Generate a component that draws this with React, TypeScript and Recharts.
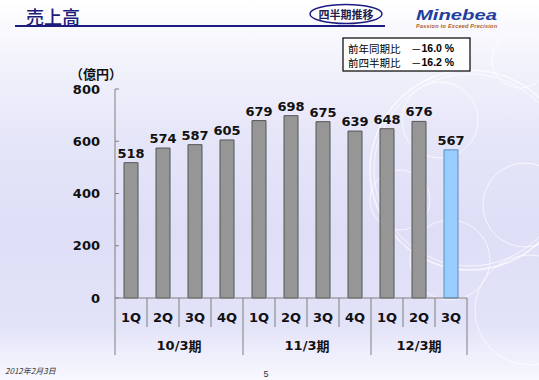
import { BarChart, Bar, XAxis, YAxis, Cell, LabelList } from "recharts"

const quarters = ["1Q", "2Q", "3Q", "4Q", "1Q", "2Q", "3Q", "4Q", "1Q", "2Q", "3Q"]
const sales = [518, 574, 587, 605, 679, 698, 675, 639, 648, 676, 567]
const periods = ["10/3期", "11/3期", "12/3期"]
const periodSizes = [4, 4, 3]
const yTicks = [0, 200, 400, 600, 800]

const data = quarters.map((q, i) => ({ q, sales: sales[i] }))

const W = 539
const H = 380
const MARGIN = { top: 89, right: 72, bottom: 52, left: 75 }
const Y_W = 40
const X_H = 30
const bandW = (W - MARGIN.left - MARGIN.right - Y_W) / quarters.length

const NUM = "'DejaVu Sans', Verdana, sans-serif"
const JP = "'Noto Sans CJK JP', sans-serif"
const AXIS = "#7f7f7f"

const groupStarts = periodSizes.reduce<number[]>((acc, n, i) => {
  acc.push(i === 0 ? 0 : acc[i - 1] + periodSizes[i - 1])
  return acc
}, [])

function YTick(props: any) {
  const { x, y, payload } = props
  return (
    <g>
      <line x1={x} x2={x + 4} y1={y} y2={y} stroke={AXIS} />
      <text x={x - 15} y={y} textAnchor="end" dominantBaseline="central"
        fontFamily={NUM} fontWeight="bold" fontSize={13} fill="#111">
        {payload.value}
      </text>
    </g>
  )
}

function QTick(props: any) {
  const { x, y, payload, index } = props
  const idx = payload?.index ?? index
  const left = x - bandW / 2
  const g = groupStarts.indexOf(idx)
  const last = idx === quarters.length - 1
  return (
    <g>
      <line x1={left} x2={left} y1={y} y2={g >= 0 ? y + 57 : y + 29} stroke={AXIS} />
      {last && <line x1={left + bandW} x2={left + bandW} y1={y} y2={y + 57} stroke={AXIS} />}
      <text x={x} y={y + 19} textAnchor="middle" dominantBaseline="central"
        fontFamily={NUM} fontWeight="bold" fontSize={13} fill="#111">
        {quarters[idx]}
      </text>
      {g >= 0 && (
        <text x={left + (periodSizes[g] * bandW) / 2} y={y + 47} textAnchor="middle"
          dominantBaseline="central" fontFamily={NUM} fontWeight="bold" fontSize={13} fill="#111">
          {periods[g].replace("期", "")}
          <tspan fontFamily={JP}>期</tspan>
        </text>
      )}
    </g>
  )
}

export default function App() {
  return (
    <div style={{ position: "absolute", left: 0, top: 0, width: W, height: H, overflow: "hidden",
      background: "linear-gradient(#ffffff 0%, #f4f4fc 14%, #e6e6f9 35%, #dedef7 60%, #e2e2f8 85%, #f8f8ff 100%)" }}>
      <svg width={W} height={H} style={{ position: "absolute", left: 0, top: 0 }}>
        <g fill="none" stroke="#ffffff" strokeOpacity={0.7}>
          <circle cx={470} cy={170} r={100} strokeWidth={1.5} />
          <circle cx={470} cy={170} r={96} strokeWidth={1} />
          <circle cx={440} cy={120} r={38} />
          <circle cx={525} cy={205} r={42} />
          <circle cx={450} cy={260} r={40} />
          <circle cx={520} cy={60} r={28} />
          <circle cx={530} cy={310} r={55} />
          <circle cx={400} cy={200} r={30} />
        </g>
        <text x={26} y={24} fontFamily={JP} fontSize={18} fontWeight={500} fill="#1c1c78">売上高</text>
        <line x1={15} x2={385} y1={26} y2={26} stroke="#1c1c80" strokeWidth={2} />
        <ellipse cx={346} cy={14} rx={36} ry={9.5} fill="#fff" stroke="#1c1c80" strokeWidth={1.5} />
        <text x={346} y={14} textAnchor="middle" dominantBaseline="central" fontFamily={JP}
          fontWeight="bold" fontSize={11} fill="#1c1c50">四半期推移</text>
        <text x={416} y={20} fontFamily="'Liberation Sans', Arial, sans-serif" fontWeight="bold" fontStyle="italic"
          fontSize={15} fill="#1f3f9f" textLength={81} lengthAdjust="spacingAndGlyphs">Minebea</text>
        <text x={416} y={27.5} fontFamily="'Liberation Sans', sans-serif" fontWeight="bold" fontStyle="italic"
          fontSize={5.5} fill="#b0602a" textLength={81}>Passion to Exceed Precision</text>
        <rect x={343} y={38} width={127} height={33} fill="#fff" stroke="#000" strokeWidth={1.2} />
        <text x={348} y={48} dominantBaseline="central" fontSize={10.5} fill="#000">
          <tspan fontFamily={JP}>前年同期比　－</tspan>
          <tspan fontFamily="'Liberation Sans', Arial, sans-serif" fontWeight="bold">16.0 %</tspan>
        </text>
        <text x={348} y={62} dominantBaseline="central" fontSize={10.5} fill="#000">
          <tspan fontFamily={JP}>前四半期比　－</tspan>
          <tspan fontFamily="'Liberation Sans', Arial, sans-serif" fontWeight="bold">16.2 %</tspan>
        </text>
        <text x={70} y={73} dominantBaseline="central" fontFamily={JP} fontWeight="bold" fontSize={13} fill="#111">（億円）</text>
        <text x={5} y={370} dominantBaseline="central" fontFamily={JP} fontStyle="italic" fontSize={8} fill="#333">2012年2月3日</text>
        <text x={266} y={374} textAnchor="middle" dominantBaseline="central"
          fontFamily="'Liberation Sans', Arial, sans-serif" fontSize={9} fill="#333">5</text>
      </svg>
      <div style={{ position: "absolute", left: 0, top: 0 }}>
        <BarChart width={W} height={H} data={data} margin={MARGIN}>
          <XAxis dataKey="q" height={X_H} interval={0} tickLine={false} tickSize={0} tickMargin={0}
            stroke={AXIS} tick={<QTick />} />
          <YAxis width={Y_W} domain={[0, 800]} ticks={yTicks} tickLine={false} tickSize={0}
            tickMargin={0} stroke={AXIS} tick={<YTick />} />
          <Bar dataKey="sales" barSize={14} isAnimationActive={false}>
            {data.map((d, i) => (
              <Cell key={i}
                fill={i === data.length - 1 ? "#99ccff" : "#969696"}
                stroke={i === data.length - 1 ? "#5a8cc0" : "#555555"} strokeWidth={1} />
            ))}
            <LabelList dataKey="sales" position="top" offset={5} fill="#111"
              fontFamily={NUM} fontWeight="bold" fontSize={13} />
          </Bar>
        </BarChart>
      </div>
    </div>
  )
}
